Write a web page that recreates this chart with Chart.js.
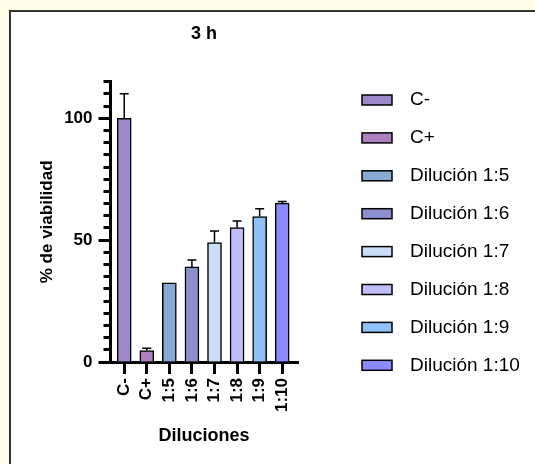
<!DOCTYPE html>
<html lang="es">
<head>
<meta charset="utf-8">
<title>3 h</title>
<script src="https://cdn.jsdelivr.net/npm/chart.js@4.4.1/dist/chart.umd.min.js"></script>
<style>
  html, body { margin: 0; padding: 0; }
  body { width: 535px; height: 464px; overflow: hidden; background: #fffde8; position: relative; }
  #marco { position: absolute; left: 9px; top: 10px; width: 600px; height: 600px; background: #fff; border: 2px solid #333; }
  #grafica-viabilidad { position: absolute; left: 0; top: 0; }
</style>
</head>
<body>
<div id="marco"></div>
<canvas id="grafica-viabilidad" width="535" height="464"></canvas>
<script>
// Datos (3 h)
const categorias = ["C-", "C+", "1:5", "1:6", "1:7", "1:8", "1:9", "1:10"];
const nombresLeyenda = ["C-", "C+", "Dilución 1:5", "Dilución 1:6", "Dilución 1:7", "Dilución 1:8", "Dilución 1:9", "Dilución 1:10"];
const viabilidad = [100, 4.7, 32.5, 39.0, 49.0, 55.1, 59.7, 65.2];
const errorSuperior = [10.1, 0.9, 0, 2.8, 4.7, 2.7, 3.2, 0.6];
const colores = ["#9d88cc", "#b07fbf", "#88aad2", "#8b8fcc", "#cadff7", "#c1befd", "#90c2fa", "#8b8bff"];
const ticksY = [0, 50, 100];

const fuente = "Arial, 'Liberation Sans', sans-serif";
Chart.defaults.font.family = fuente;
Chart.defaults.color = "#000";

// Barras de error (solo hacia arriba)
const barrasError = {
  id: "barrasError",
  afterDatasetsDraw(chart) {
    const { ctx, scales: { y } } = chart;
    const barras = chart.getDatasetMeta(0).data;
    ctx.save();
    ctx.strokeStyle = "#000";
    ctx.lineWidth = 1.5;
    barras.forEach((barra, i) => {
      if (!errorSuperior[i]) return;
      const yTope = y.getPixelForValue(viabilidad[i] + errorSuperior[i]);
      ctx.beginPath();
      ctx.moveTo(barra.x, barra.y);
      ctx.lineTo(barra.x, yTope);
      ctx.moveTo(barra.x - 4.5, yTope);
      ctx.lineTo(barra.x + 4.5, yTope);
      ctx.stroke();
    });
    ctx.restore();
  }
};

// Leyenda a la derecha, un elemento por barra
const leyendaLateral = {
  id: "leyendaLateral",
  afterDraw(chart) {
    const { ctx } = chart;
    const fondos = chart.data.datasets[0].backgroundColor;
    ctx.save();
    ctx.font = "19px " + fuente;
    ctx.textBaseline = "middle";
    ctx.lineWidth = 1.5;
    nombresLeyenda.forEach((nombre, i) => {
      const yc = 100 + i * 37.9;
      ctx.fillStyle = fondos[i];
      ctx.fillRect(362, yc - 5, 30, 10);
      ctx.strokeStyle = "#000";
      ctx.strokeRect(362, yc - 5, 30, 10);
      ctx.fillStyle = "#000";
      ctx.fillText(nombre, 410, yc);
    });
    ctx.restore();
  }
};

const ctx = document.getElementById("grafica-viabilidad").getContext("2d");

new Chart(ctx, {
  type: "bar",
  data: {
    labels: categorias,
    datasets: [{
      label: "% de viabilidad",
      data: viabilidad.map((v, i) => ({ x: i, y: v })),
      backgroundColor: colores,
      borderColor: "#000",
      borderWidth: 1.5,
      barThickness: 14
    }]
  },
  options: {
    responsive: false,
    devicePixelRatio: 1,
    animation: false,
    layout: { padding: { left: 0, right: 237, top: 0, bottom: 0 } },
    plugins: {
      legend: { display: false },
      tooltip: { enabled: false },
      title: {
        display: true,
        text: "3 h",
        fullSize: false,
        font: { size: 18, weight: "bold" },
        padding: { top: 23.7, bottom: 36.4 }
      }
    },
    scales: {
      x: {
        type: "linear",
        offset: false,
        min: -0.63,
        max: 7.7,
        afterBuildTicks: (scale) => {
          scale.ticks = categorias.map((c, i) => ({ value: i }));
        },
        afterFit: (scale) => { scale.height = 102; },
        ticks: {
          autoSkip: false,
          minRotation: 90,
          maxRotation: 90,
          padding: 4,
          font: { size: 17, weight: "bold" },
          callback: (v) => categorias[v]
        },
        grid: { display: true, offset: false, drawOnChartArea: false, drawTicks: true, tickLength: 12, tickWidth: 3, tickColor: "#000" },
        border: { display: true, color: "#000", width: 3 },
        title: {
          display: true,
          text: "Diluciones",
          font: { size: 18, weight: "bold" },
          padding: { top: 0, bottom: 16.7 }
        }
      },
      y: {
        min: 0,
        max: 115,
        afterFit: (scale) => { scale.width = 110; },
        ticks: {
          stepSize: 5,
          autoSkip: false,
          padding: 6,
          font: { size: 17, weight: "bold" },
          callback: (v) => ticksY.includes(v) ? v : ""
        },
        grid: {
          display: true,
          drawOnChartArea: false,
          drawTicks: true,
          tickLength: 11.5,
          tickWidth: 3,
          tickColor: "#000",
          // marcas menores mas cortas, pegadas al eje
          tickBorderDash: (c) => ticksY.includes(c.tick.value) ? [] : [0, 5, 6.5, 20]
        },
        border: { display: true, color: "#000", width: 3 },
        title: {
          display: true,
          text: "% de viabilidad",
          font: { size: 17, weight: "bold" },
          padding: { top: 37, bottom: 0 }
        }
      }
    }
  },
  plugins: [barrasError, leyendaLateral]
});
</script>
</body>
</html>
